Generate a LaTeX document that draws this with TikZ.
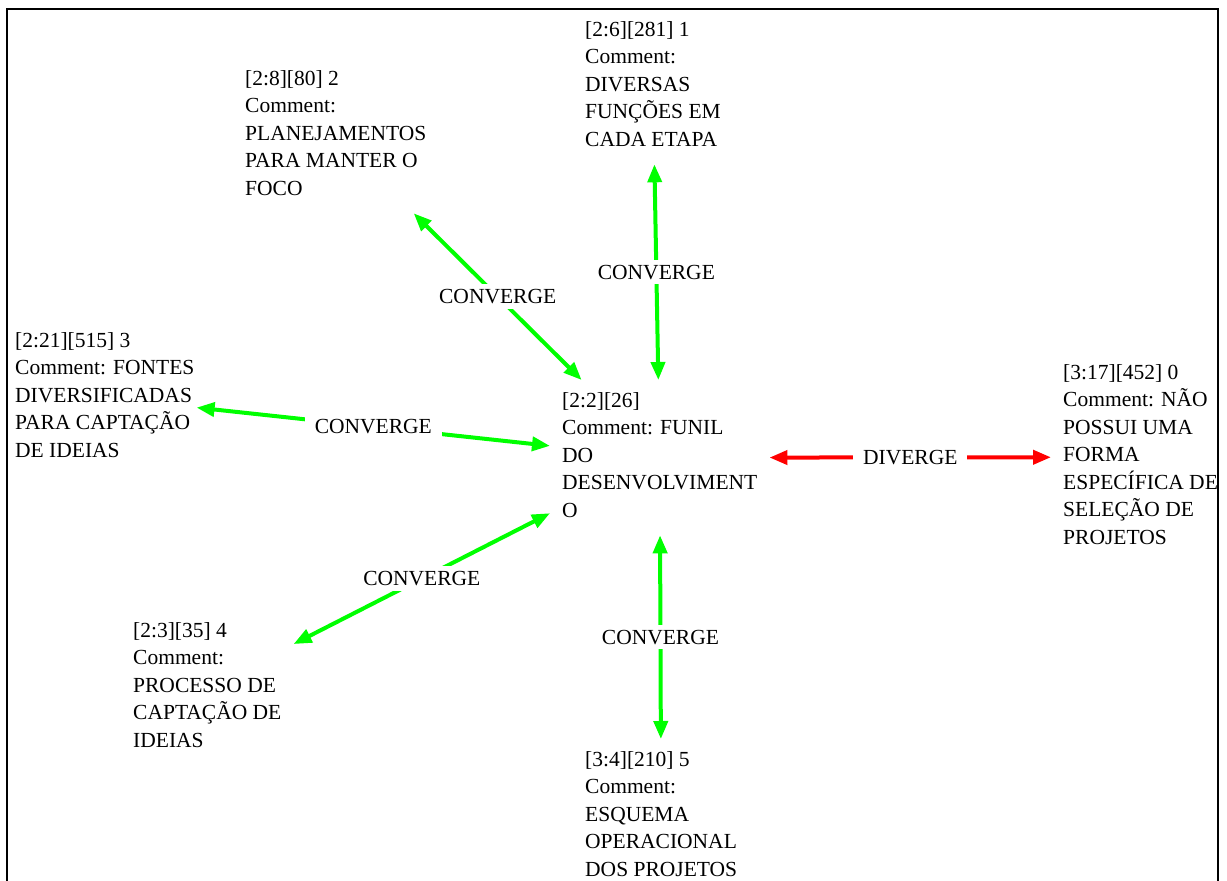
\documentclass[tikz,border=0pt]{standalone}
\usepackage{fontspec}
\setmainfont{Liberation Serif}
\usetikzlibrary{arrows.meta}
\definecolor{linkgreen}{RGB}{0,255,0}
\definecolor{linkred}{RGB}{255,0,0}
\begin{document}
\begin{tikzpicture}[x=1pt,y=-1pt,
  code/.style={anchor=north west, align=left, inner xsep=12pt, inner ysep=12pt,
    font=\fontsize{21.5pt}{27.5pt}\selectfont,
    execute at begin node={\rule{0pt}{16pt}},
    execute at end node={\rule[-6pt]{0pt}{6pt}}},
  link/.style={line width=4pt, {Triangle[length=18pt,width=14pt]}-{Triangle[length=18pt,width=14pt]}},
  conv/.style={link, draw=linkgreen},
  div/.style={link, draw=linkred},
  rel/.style={fill=white, text=black, inner xsep=10pt, inner ysep=5pt,
    font=\fontsize{21.5pt}{27.5pt}\selectfont}]
\useasboundingbox (0,0) rectangle (1227,881);
% open frame around the network view
\draw[line width=2pt] (7,895) -- (7,9) -- (1218,9) -- (1218,895);

% codes
\node[code] (n1) at (573,9) {[2:6][281] 1\\Comment:\\DIVERSAS\\FUNÇÕES EM\\CADA ETAPA};
\node[code] (n2) at (233,58) {[2:8][80] 2\\Comment:\\PLANEJAMENTOS\\PARA MANTER O\\FOCO};
\node[code, inner xsep=2pt] (n3) at (13,320) {[2:21][515] 3\\Comment: FONTES\\DIVERSIFICADAS\\PARA CAPTAÇÃO\\DE IDEIAS};
\node[code] (c) at (550,380) {[2:2][26]\\Comment: FUNIL\\DO\\DESENVOLVIMENT\\O};
\node[code] (n0) at (1051,352) {[3:17][452] 0\\Comment: NÃO\\POSSUI UMA\\FORMA\\ESPECÍFICA DE\\SELEÇÃO DE\\PROJETOS};
\node[code] (n4) at (121,610) {[2:3][35] 4\\Comment:\\PROCESSO DE\\CAPTAÇÃO DE\\IDEIAS};
\node[code] (n5) at (573,739) {[3:4][210] 5\\Comment:\\ESQUEMA\\OPERACIONAL\\DOS PROJETOS};

% relations
\draw[conv] (c) -- node[rel]{CONVERGE} (n1);
\draw[conv] (c) -- node[rel]{CONVERGE} (n2);
\draw[conv] (c) -- node[rel]{CONVERGE} (n3);
\draw[conv] (c) -- node[rel]{CONVERGE} (n4);
\draw[conv] (c) -- node[rel]{CONVERGE} (n5);
\draw[div] (c) -- node[rel]{DIVERGE} (n0);
\end{tikzpicture}
\end{document}
